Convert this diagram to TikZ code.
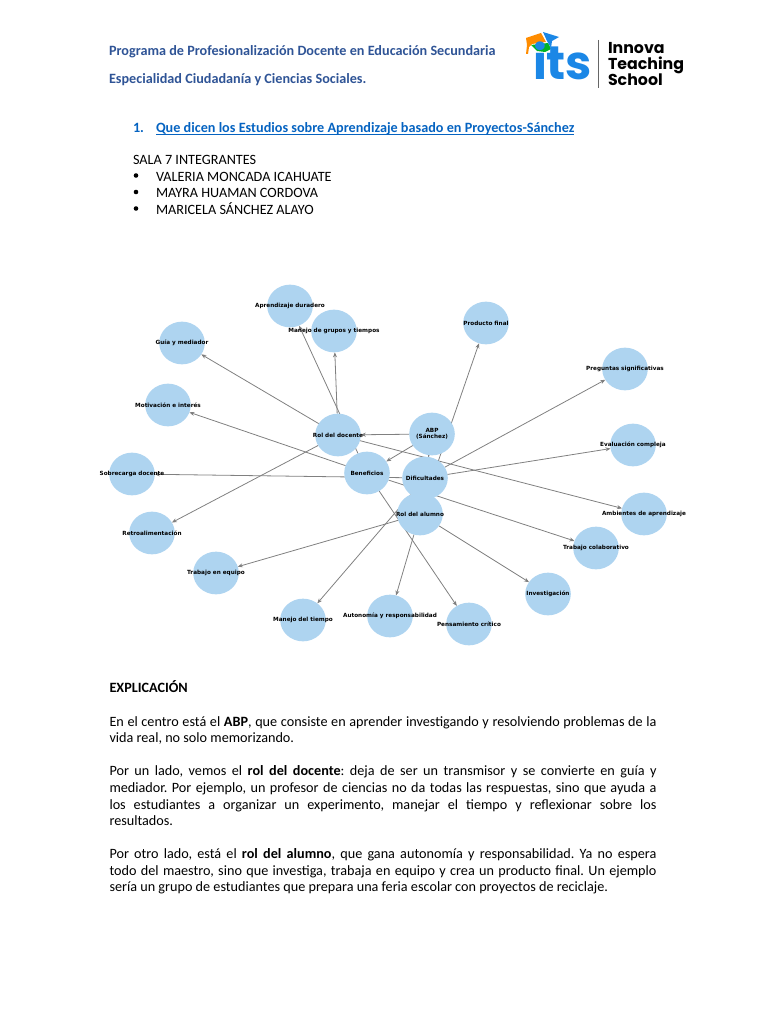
\documentclass[tikz,border=0pt]{standalone}
\usepackage{fontspec}
\setmainfont{Carlito}
\newfontfamily\graphfont{DejaVu Sans}
\newfontfamily\logofont{Poppins}
\usetikzlibrary{arrows.meta,shapes.geometric,backgrounds}
\frenchspacing

\definecolor{headblue}{HTML}{2F5496}
\definecolor{linkblue}{HTML}{0563C1}
\definecolor{bubble}{HTML}{AED4F0}
\definecolor{edgegray}{HTML}{808080}
\definecolor{itsblue}{HTML}{1B87E6}

\tikzset{
  every node/.style={inner sep=0pt,outer sep=0pt},
  bodytext/.style={anchor=base west,font=\fontsize{14.2}{16.6}\selectfont},
  headtext/.style={bodytext,text=headblue,font=\fontsize{14.2}{16.6}\selectfont\bfseries},
  para/.style={bodytext,anchor=north west,text width=547pt,align=justify},
  topic/.style={ellipse,fill=bubble,minimum width=45.6pt,minimum height=42.7pt},
  topictext/.style={align=center,font=\graphfont\fontsize{5.7}{6.3}\selectfont\bfseries},
  logotext/.style={anchor=base west,font=\logofont\fontsize{15.8}{16}\selectfont\bfseries},
  link/.style={-{Stealth[length=5pt,width=4pt]},draw=edgegray,line width=0.8pt}
}

\begin{document}
\begin{tikzpicture}[x=1pt,y=-1pt]
  \useasboundingbox (0,0) rectangle (768,1024);

  % header
  \node[headtext] (prog) at (109,55.5) {Programa de Profesionalización Docente en Educación Secundaria};
  \node[headtext] (espec) at (109,83.5) {Especialidad Ciudadanía y Ciencias Sociales.};

  % logo
  \fill[orange!90!yellow] (526,38) -- (541,33) -- (546,42) -- (532,44) -- (529,47) -- (528,54) -- (526,54) -- (527,45) -- cycle;
  \fill[green!65!black!85!cyan] (531,45) -- (548,43) -- (551,49) -- (545,52) -- (537,51) -- cycle;
  \fill[itsblue] (543,32) -- (559,37) -- (552,41) -- (551,48) -- (547,41) -- cycle;
  \node[anchor=base west,text=itsblue,font=\logofont\fontsize{47}{47}\selectfont\bfseries] (its) at (533,79.5) {its};
  \draw[black!60,line width=1pt] (598,40) -- (598,88);
  \node[logotext] (innova) at (608,54) {Innova};
  \node[logotext] (teaching) at (608,70) {Teaching};
  \node[logotext] (school) at (608,86) {School};

  % title and names
  \node[bodytext,text=linkblue,font=\fontsize{14.2}{16.6}\selectfont\bfseries] (num) at (133,132.5) {1.};
  \node[bodytext,text=linkblue,font=\fontsize{14.2}{16.6}\selectfont\bfseries] (title) at (156,132.5) {Que dicen los Estudios sobre Aprendizaje basado en Proyectos-Sánchez};
  \draw[linkblue,line width=0.9pt] ([yshift=-1.5pt]title.base west) -- ([yshift=-1.5pt]title.base east);
  \node[bodytext] (sala) at (133,165) {SALA 7 INTEGRANTES};
  \node[bodytext] (name1) at (156,181.5) {VALERIA MONCADA ICAHUATE};
  \node[bodytext] (name2) at (156,197.5) {MAYRA HUAMAN CORDOVA};
  \node[bodytext] (name3) at (156,214.5) {MARICELA SÁNCHEZ ALAYO};
  \fill (136,175.5) circle (2.3pt) (136,192) circle (2.3pt) (136,208.5) circle (2.3pt);

  % graph
  \node[topic] (abp)   at (432,434) {};
  \node[topic] (rold)  at (338,435) {};
  \node[topic] (bene)  at (367,473) {};
  \node[topic] (difi)  at (425,478) {};
  \node[topic] (rola)  at (420,514) {};
  \node[topic] (apre)  at (290,306) {};
  \node[topic] (mgru)  at (334,331) {};
  \node[topic] (prod)  at (486,323) {};
  \node[topic] (guia)  at (182,343) {};
  \node[topic] (preg)  at (625,369) {};
  \node[topic] (moti)  at (168,405) {};
  \node[topic] (eval)  at (633,445) {};
  \node[topic] (sobr)  at (132,474) {};
  \node[topic] (ambi)  at (644,514) {};
  \node[topic] (retr)  at (152,533) {};
  \node[topic] (tcol)  at (596,548) {};
  \node[topic] (tequ)  at (216,573) {};
  \node[topic] (inve)  at (548,594) {};
  \node[topic] (mtie)  at (303,620) {};
  \node[topic] (auto)  at (390,616) {};
  \node[topic] (pens)  at (469,624) {};

  \begin{scope}[on background layer]
    \path[link]
      (abp)  edge (rold)
             edge (bene)
             edge (difi)
             edge (rola)
      (rold) edge (guia)
             edge (mgru)
             edge (ambi)
             edge (retr)
      (bene) edge (apre)
             edge (moti)
             edge (tcol)
             edge (pens)
      (difi) edge (sobr)
             edge (mtie)
             edge (preg)
             edge (eval)
      (rola) edge (prod)
             edge (tequ)
             edge (auto)
             edge (inve);
  \end{scope}

  \node[topictext] (abpt)  at (abp)  {ABP\\(Sánchez)};
  \node[topictext] (roldt) at (rold) {Rol del docente};
  \node[topictext] (benet) at (bene) {Beneficios};
  \node[topictext] (difit) at (difi) {Dificultades};
  \node[topictext] (rolat) at (rola) {Rol del alumno};
  \node[topictext] (apret) at (apre) {Aprendizaje duradero};
  \node[topictext] (mgrut) at (mgru) {Manejo de grupos y tiempos};
  \node[topictext] (prodt) at (prod) {Producto final};
  \node[topictext] (guiat) at (guia) {Guía y mediador};
  \node[topictext] (pregt) at (preg) {Preguntas significativas};
  \node[topictext] (motit) at (moti) {Motivación e interés};
  \node[topictext] (evalt) at (eval) {Evaluación compleja};
  \node[topictext] (sobrt) at (sobr) {Sobrecarga docente};
  \node[topictext] (ambit) at (ambi) {Ambientes de aprendizaje};
  \node[topictext] (retrt) at (retr) {Retroalimentación};
  \node[topictext] (tcolt) at (tcol) {Trabajo colaborativo};
  \node[topictext] (tequt) at (tequ) {Trabajo en equipo};
  \node[topictext] (invet) at (inve) {Investigación};
  \node[topictext] (mtiet) at (mtie) {Manejo del tiempo};
  \node[topictext] (autot) at (auto) {Autonomía y responsabilidad};
  \node[topictext] (penst) at (pens) {Pensamiento crítico};

  % explanation
  \node[bodytext,font=\fontsize{14.2}{16.6}\selectfont\bfseries] (expl) at (109.5,692) {EXPLICACIÓN};
  \node[para] (par1) at (109.5,716.5) {En el centro está el \textbf{ABP}, que consiste en aprender investigando y resolviendo problemas de la\linebreak
    vida real, no solo memorizando.};
  \node[para] (par2) at (109.5,766) {Por un lado, vemos el \textbf{rol del docente}: deja de ser un transmisor y se convierte en guía y\linebreak
    mediador. Por ejemplo, un profesor de ciencias no da todas las respuestas, sino que ayuda a\linebreak
    los estudiantes a organizar un experimento, manejar el tiempo y reflexionar sobre los\linebreak
    resultados.};
  \node[para] (par3) at (109.5,848.5) {Por otro lado, está el \textbf{rol del alumno}, que gana autonomía y responsabilidad. Ya no espera\linebreak
    todo del maestro, sino que investiga, trabaja en equipo y crea un producto final. Un ejemplo\linebreak
    sería un grupo de estudiantes que prepara una feria escolar con proyectos de reciclaje.};
\end{tikzpicture}
\end{document}
